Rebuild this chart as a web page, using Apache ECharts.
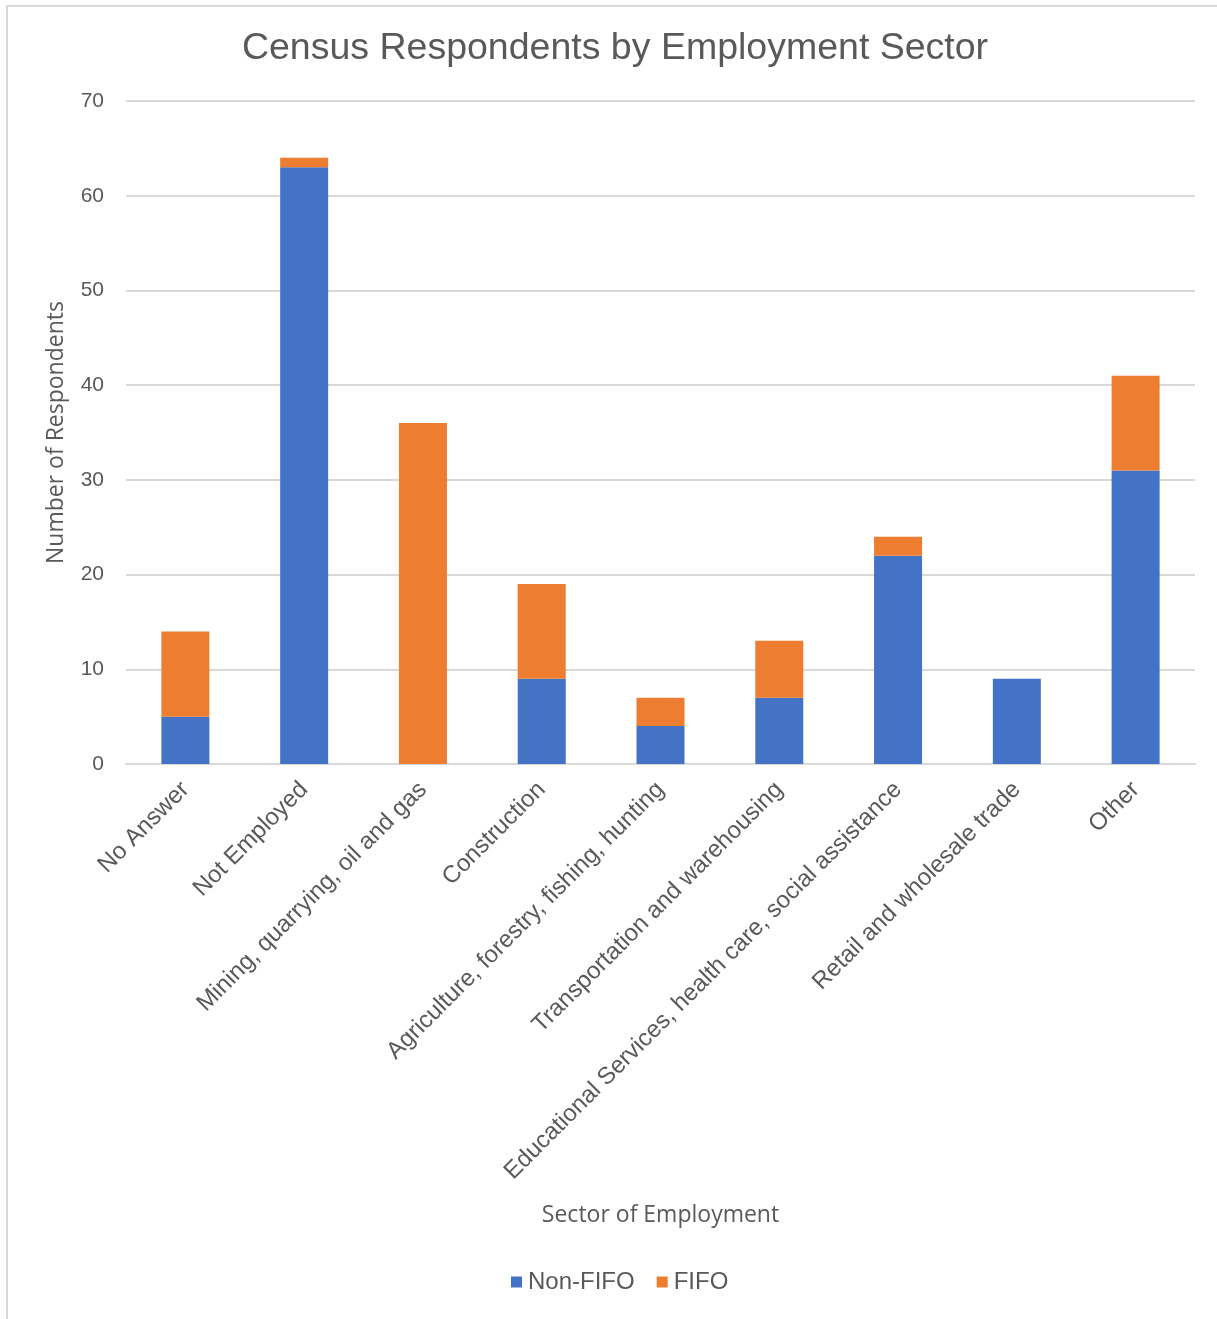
<!DOCTYPE html>
<html>
<head>
<meta charset="utf-8">
<script src="https://cdn.jsdelivr.net/npm/echarts@6/dist/echarts.min.js"></script>
<style>
  html, body { margin: 0; padding: 0; background: #ffffff; }
  #chart { width: 1217px; height: 1319px; }
</style>
</head>
<body>
<div id="chart"></div>
<script>
// Census respondents by employment sector, split by FIFO status
const categories = [
  'No Answer',
  'Not Employed',
  'Mining, quarrying, oil and gas',
  'Construction',
  'Agriculture, forestry, fishing, hunting',
  'Transportation and warehousing',
  'Educational Services, health care, social assistance',
  'Retail and wholesale trade',
  'Other'
];
const nonFifo = [5, 63, 0, 9, 4, 7, 22, 9, 31];
const fifo    = [9, 1, 36, 10, 3, 6, 2, 0, 10];
const yTicks  = [0, 10, 20, 30, 40, 50, 60, 70];

const textGrey = '#595959';
const gridGrey = '#d9d9d9';

const chart = echarts.init(document.getElementById('chart'), null, { renderer: 'canvas' });

chart.setOption({
  backgroundColor: '#ffffff',
  animation: false,
  title: {
    text: 'Census Respondents by Employment Sector',
    left: 610,
    top: 25,
    textAlign: 'center',
    textStyle: {
      fontFamily: 'Liberation Sans',
      fontSize: 37.5,
      fontWeight: 'normal',
      color: textGrey
    }
  },
  legend: {
    bottom: 20,
    left: 506,
    itemWidth: 11,
    itemHeight: 11,
    itemGap: 22,
    icon: 'rect',
    textStyle: {
      fontFamily: 'Liberation Sans',
      fontSize: 24,
      color: textGrey,
      padding: [0, 0, 0, 1]
    },
    data: ['Non-FIFO', 'FIFO']
  },
  grid: {
    left: 126,
    right: 22,
    top: 101,
    bottom: 555,
    containLabel: false
  },
  xAxis: {
    type: 'category',
    data: categories,
    name: 'Sector of Employment',
    nameLocation: 'middle',
    nameGap: 440,
    nameTextStyle: {
      fontFamily: 'Open Sans',
      fontSize: 23,
      color: textGrey
    },
    axisLine: { show: true, lineStyle: { color: gridGrey, width: 2 } },
    axisTick: { show: false },
    axisLabel: {
      interval: 0,
      rotate: 45,
      margin: 22,
      fontFamily: 'Liberation Sans',
      fontSize: 24,
      color: textGrey
    }
  },
  yAxis: {
    type: 'value',
    min: yTicks[0],
    max: yTicks[yTicks.length - 1],
    interval: 10,
    name: 'Number of Respondents',
    nameLocation: 'middle',
    nameGap: 58,
    nameTextStyle: {
      fontFamily: 'Open Sans',
      fontSize: 23,
      color: textGrey
    },
    axisLine: { show: false },
    axisTick: { show: false },
    axisLabel: {
      margin: 22,
      fontFamily: 'Liberation Sans',
      fontSize: 21,
      color: textGrey
    },
    splitLine: { lineStyle: { color: gridGrey, width: 2 } }
  },
  series: [
    {
      name: 'Non-FIFO',
      type: 'bar',
      stack: 'total',
      barWidth: 48,
      data: nonFifo,
      itemStyle: { color: '#4472C4' }
    },
    {
      name: 'FIFO',
      type: 'bar',
      stack: 'total',
      barWidth: 48,
      data: fifo,
      itemStyle: { color: '#ED7D31' }
    }
  ],
  graphic: [
    {
      type: 'rect',
      silent: true,
      shape: { x: 7, y: 6, width: 1230, height: 1330 },
      style: { fill: 'none', stroke: gridGrey, lineWidth: 2 }
    }
  ]
});
</script>
</body>
</html>
